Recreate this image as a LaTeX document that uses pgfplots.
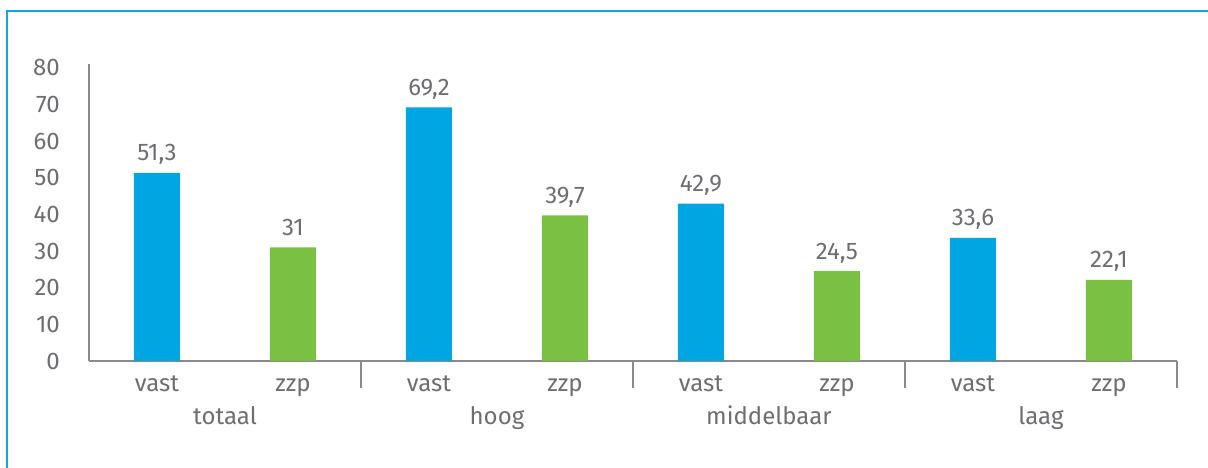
\documentclass[border=0pt]{standalone}
\usepackage{pgfplots}
\pgfplotsset{compat=1.18}
\usepackage{fontspec}
\setmainfont{Fira Sans}
\definecolor{frame}{HTML}{1BA3DE}
\definecolor{vast}{HTML}{00A6E2}
\definecolor{zzp}{HTML}{7AC143}
\definecolor{txt}{HTML}{6D6E71}
\definecolor{axl}{HTML}{8A8A8A}
\begin{document}
\begin{tikzpicture}[font=\fontsize{24}{28}\selectfont, x=1pt, y=1pt]
\useasboundingbox (0,0) rectangle (1208,468);
\draw[frame, line width=2pt] (7,0) -- (7,457) -- (1208,457);
\begin{axis}[
  at={(89pt,107pt)}, anchor=south west,
  scale only axis, width=1088pt, height=297pt,
  ymin=0, ymax=81, xmin=-0.5, xmax=7.5,
  ybar, bar width=46pt, bar shift=0pt,
  axis lines*=left,
  axis line style={axl, line width=1.3pt},
  ytick={0,10,...,80},
  xtick={0,...,7},
  xticklabels={vast,zzp,vast,zzp,vast,zzp,vast,zzp},
  major tick length=0pt,
  extra x ticks={1.5,3.5,5.5,7.5},
  extra x tick labels={},
  extra x tick style={major tick length=27pt, tick align=outside,
     tick style={axl, line width=1.3pt}, xtick pos=bottom},
  xticklabel style={anchor=base, yshift=-31pt, text=txt, inner sep=0pt},
  yticklabel style={anchor=east, xshift=-29pt, text=txt, inner sep=0pt},
  /pgf/number format/.cd, use comma, assume math mode=true,
  /pgfplots/.cd,
  nodes near coords,
  every node near coord/.append style={anchor=base, yshift=12pt, text=txt, inner sep=0pt},
  clip=false,
]
\addplot[fill=vast, draw=none] coordinates {(0,51.3) (2,69.2) (4,42.9) (6,33.6)};
\addplot[fill=zzp, draw=none] coordinates {(1,31) (3,39.7) (5,24.5) (7,22.1)};
\node[anchor=base, text=txt] at ({axis cs:0.5,0}) [yshift=-64pt] {totaal};
\node[anchor=base, text=txt] at ({axis cs:2.5,0}) [yshift=-64pt] {hoog};
\node[anchor=base, text=txt] at ({axis cs:4.5,0}) [yshift=-64pt] {middelbaar};
\node[anchor=base, text=txt] at ({axis cs:6.5,0}) [yshift=-64pt] {laag};
\end{axis}
\end{tikzpicture}
\end{document}
